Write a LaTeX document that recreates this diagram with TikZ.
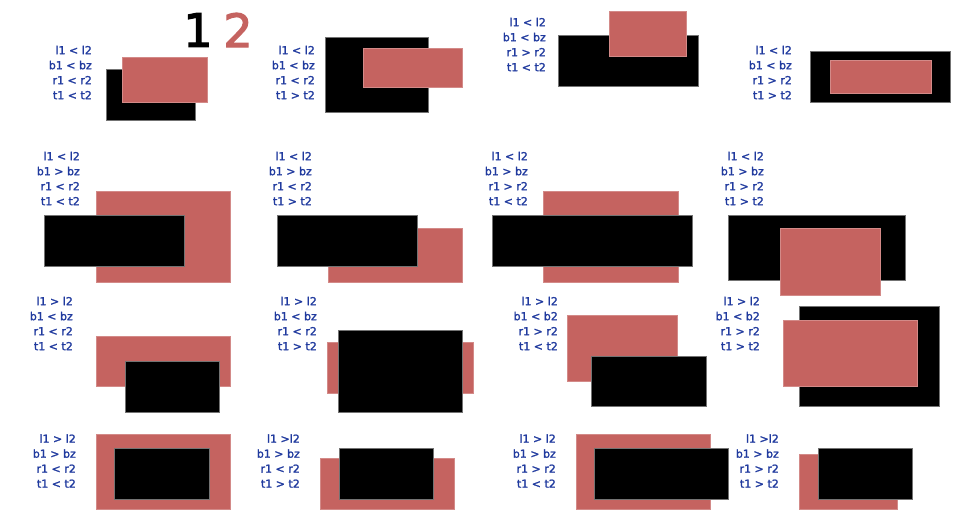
\documentclass[tikz,border=0pt]{standalone}
\usepackage{fontspec}
\setmainfont{DejaVu Sans}
\newfontfamily\condfont{DejaVu Sans}[FakeBold=1.8]
\newfontfamily\digitfont{DejaVu Sans}[FakeBold=2.5]
\definecolor{boxred}{RGB}{197,99,96}
\definecolor{condblue}{RGB}{32,58,158}
\begin{document}
\begin{tikzpicture}[x=1pt,y=-1pt,
  cond/.style={anchor=east,align=right,inner sep=0pt,text=condblue,font=\condfont\fontsize{11}{15}\selectfont},
  blackbox/.style={fill=black,draw=black!55,line width=0.5pt},
  redbox/.style={fill=boxred,draw=boxred!75!white,line width=0.5pt},
  digit/.style={inner sep=0pt,font=\digitfont\fontsize{46}{46}\selectfont}]
  \useasboundingbox (0,0) rectangle (960,525);
  % Legend
  \node[digit] (one) at (198,30) {1};
  \node[digit,text=boxred] (two) at (238,30) {2};
  % Row 1
  \node[cond] (c1) at (92,72.5) {l1 < l2\\b1 < bz\\r1 < r2\\t1 < t2};
  \draw[blackbox] (106,69) rectangle (195,120);
  \draw[redbox] (122,57) rectangle (207,102);
  \node[cond] (c2) at (315,72.5) {l1 < l2\\b1 < bz\\r1 < r2\\t1 > t2};
  \draw[blackbox] (325,37) rectangle (428,112);
  \draw[redbox] (363,48) rectangle (462,87);
  \node[cond] (c3) at (546,44.5) {l1 < l2\\b1 < bz\\r1 > r2\\t1 < t2};
  \draw[blackbox] (558,35) rectangle (698,86);
  \draw[redbox] (609,11) rectangle (686,56);
  \node[cond] (c4) at (792,72.5) {l1 < l2\\b1 < bz\\r1 > r2\\t1 > t2};
  \draw[blackbox] (810,51) rectangle (950,102);
  \draw[redbox] (830,60) rectangle (931,93);
  % Row 2
  \node[cond] (c5) at (80,178.5) {l1 < l2\\b1 > bz\\r1 < r2\\t1 < t2};
  \draw[redbox] (96,191) rectangle (230,282);
  \draw[blackbox] (44,215) rectangle (184,266);
  \node[cond] (c6) at (312,178.5) {l1 < l2\\b1 > bz\\r1 < r2\\t1 > t2};
  \draw[redbox] (328,228) rectangle (462,282);
  \draw[blackbox] (277,215) rectangle (417,266);
  \node[cond] (c7) at (528,178.5) {l1 < l2\\b1 > bz\\r1 > r2\\t1 < t2};
  \draw[redbox] (543,191) rectangle (678,282);
  \draw[blackbox] (492,215) rectangle (692,266);
  \node[cond] (c8) at (764,178.5) {l1 < l2\\b1 > bz\\r1 > r2\\t1 > t2};
  \draw[blackbox] (728,215) rectangle (905,280);
  \draw[redbox] (780,228) rectangle (880,295);
  % Row 3
  \node[cond] (c9) at (73,323.5) {l1 > l2\\b1 < bz\\r1 < r2\\t1 < t2};
  \draw[redbox] (96,336) rectangle (230,386);
  \draw[blackbox] (125,361) rectangle (219,412);
  \node[cond] (c10) at (317,323.5) {l1 > l2\\b1 < bz\\r1 < r2\\t1 > t2};
  \draw[redbox] (327,342) rectangle (473,393);
  \draw[blackbox] (338,330) rectangle (462,412);
  \node[cond] (c11) at (558,323.5) {l1 > l2\\b1 < b2\\r1 > r2\\t1 < t2};
  \draw[redbox] (567,315) rectangle (677,381);
  \draw[blackbox] (591,356) rectangle (706,406);
  \node[cond] (c12) at (760,323.5) {l1 > l2\\b1 < b2\\r1 > r2\\t1 > t2};
  \draw[blackbox] (799,306) rectangle (939,406);
  \draw[redbox] (783,320) rectangle (917,386);
  % Row 4
  \node[cond] (c13) at (76,461) {l1 > l2\\b1 > bz\\r1 < r2\\t1 < t2};
  \draw[redbox] (96,434) rectangle (230,509);
  \draw[blackbox] (114,448) rectangle (209,499);
  \node[cond] (c14) at (300,461) {l1 >l2\\b1 > bz\\r1 < r2\\t1 > t2};
  \draw[redbox] (320,458) rectangle (454,509);
  \draw[blackbox] (339,448) rectangle (433,499);
  \node[cond] (c15) at (556,461) {l1 > l2\\b1 > bz\\r1 > r2\\t1 < t2};
  \draw[redbox] (576,434) rectangle (710,509);
  \draw[blackbox] (594,448) rectangle (728,499);
  \node[cond] (c16) at (779,461) {l1 >l2\\b1 > bz\\r1 > r2\\t1 > t2};
  \draw[redbox] (799,454) rectangle (897,509);
  \draw[blackbox] (818,448) rectangle (912,499);
\end{tikzpicture}
\end{document}
